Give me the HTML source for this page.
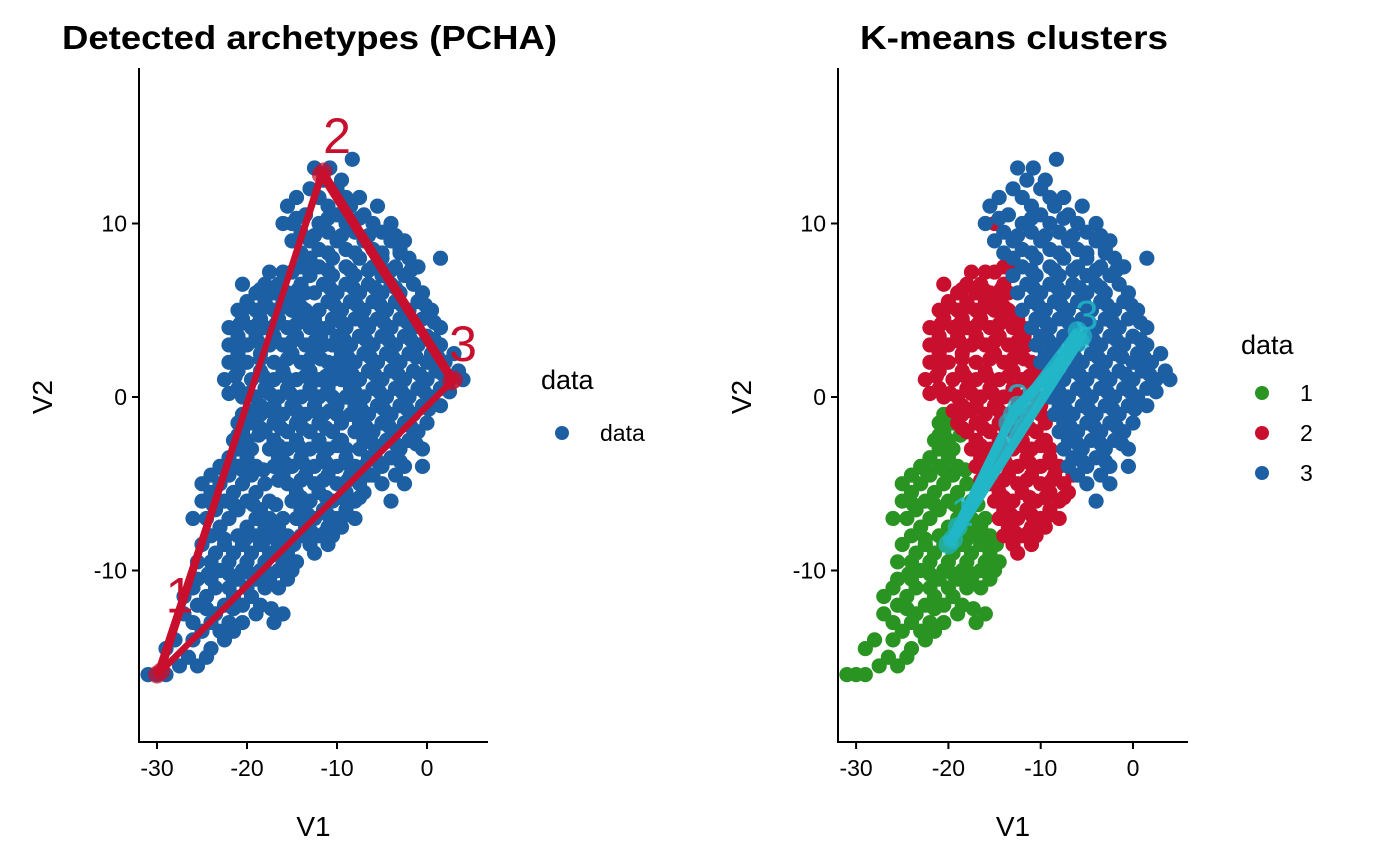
<!DOCTYPE html>
<html><head><meta charset="utf-8"><style>
body{margin:0;background:#fff;}
svg{display:block;font-family:"Liberation Sans",Arial,sans-serif;}
</style></head><body>
<svg id="chart" width="1400" height="865"></svg>
<script>
// data rows: [V2, [V1 values]]
const cluster1Rows = [
 [-16,[-31,-30,-29]],[-15.5,[-27.5,-25.5]],[-15,[-26.5,-24.5]],[-14.5,[-29,-24]],[-14,[-28,-26,-22.5]],
 [-13.5,[-25,-23,-21.5]],[-13,[-26,-24,-22,-20.5,-17]],[-12.5,[-27,-23.5,-19,-16]],[-12,[-25.5,-22.5,-20.5,-18.5]],
 [-11.5,[-27,-24.5,-21.5,-19.5]],[-11,[-26,-23.5,-22,-20,-18,-16.5]],[-10.5,[-25.5,-24,-21,-19,-17.5,-15.5]],
 [-10,[-23,-20.5,-18.5,-16.5,-15]],[-9.5,[-25.5,-24,-22,-20,-18,-16,-14.5]],[-9,[-23.5,-21.5,-19.5,-17.5,-15.5]],
 [-8.5,[-25,-22.5,-20.5,-18.5,-16.5,-14.8]],[-8,[-24,-21,-19,-17,-15.5]],[-7.5,[-23,-20,-18,-16.5]],
 [-7,[-26,-24.5,-22,-19,-17.5,-16]],[-6.5,[-23.5,-21,-18.5]],[-6,[-25,-22.5,-20,-17.5]],[-5.5,[-24,-21.5,-19]],
 [-5,[-25,-23,-20.5,-18]],[-4.5,[-24,-22,-19.5]],[-4,[-23,-21,-19]],[-3.5,[-22,-20]],[-3,[-21,-19.5]],
 [-2.5,[-21.5,-20]],[-2,[-20.5]],[-1.5,[-21,-19.5]],[-1,[-20.5]],
 [-12.2,[-24.5,-21.5,-17.3]],[-10.2,[-24.3,-22,-19.5,-17.3]],[-8.2,[-22.5,-20.2,-18,-16]],
 [-6.2,[-23.8,-21.5,-19.3,-16.8]],[-4.2,[-22.5,-20.5,-18.2]],[-2.2,[-21,-18.7]]
];
const cluster2Rows = [
 [10,[-15]],[7.5,[-14]],[7.2,[-17.5,-16,-15,-13]],[6.5,[-20.5,-18,-16.5,-14]],[6,[-19,-17,-15.5,-13.5]],
 [5.5,[-20,-18,-16,-14.5]],[5,[-21,-19,-17,-15,-13.5]],[4.5,[-20.5,-18.5,-16.5,-14,-12.5]],
 [4,[-22,-19.5,-18,-15.5,-13,-12]],[3.5,[-21,-19,-17,-14.5,-11.8]],[3,[-22,-20,-17.5,-16,-13.5,-11.5]],
 [2.5,[-21,-18.5,-15,-12.5]],[2,[-22,-20,-17,-14,-11]],[1.5,[-21,-18.5,-16,-13,-10.5]],
 [1,[-22.5,-19.5,-17,-14.5,-12,-10.5]],[0.5,[-21,-18,-15.5,-13,-11]],[0,[-20.5,-19,-16.5,-14,-12,-10.5]],
 [-0.5,[-18.5,-17,-15,-12.5,-10]],[-1,[-18.5,-16,-13.5,-11.5,-10]],[-1.5,[-19,-17,-14.5,-12,-9.5]],
 [-2,[-18,-15.5,-13,-10.5]],[-2.5,[-17,-14.5,-12,-9.5]],[-3,[-17.5,-15.5,-13,-11,-9]],
 [-3.5,[-16.5,-14,-11.5,-9]],[-4,[-17,-15,-12.5,-10,-8]],[-4.5,[-16,-13.5,-11,-8.5,-6.5]],
 [-5,[-15.5,-12.5,-10,-7.5]],[-5.5,[-14.5,-12,-9,-7]],[-6,[-15,-13,-10.5,-8]],[-6.5,[-14,-11.5,-9]],
 [-7,[-14.5,-12.5,-10,-8]],[-7.5,[-13.5,-11,-9.5]],[-8,[-14,-12,-10.5]],[-8.5,[-13,-11]],[-9,[-12.5]],
 [6.2,[-18.5,-16.2,-14.3]],[5.2,[-19.8,-17.8,-15.8,-14]],[4.2,[-20.8,-18.8,-16.8,-14.5,-12.8]],
 [3.2,[-21,-18.8,-16.8,-15,-12.5]],[2.2,[-21,-18.5,-15.5,-13,-11.8]],[1.2,[-21.3,-18.2,-15.8,-13.5,-11.2]],
 [0.2,[-22,-19.8,-17.5,-15.2,-13,-11.2]],[-0.8,[-19.5,-17.5,-14.5,-12.5,-10.8]],[-1.8,[-18.5,-16.2,-13.8,-11.2]],
 [-2.8,[-16.5,-14.3,-12,-10]],[-3.8,[-15.8,-13.8,-11.2,-9]],[-4.8,[-16.5,-14,-11.5,-8.8]],
 [-5.8,[-14,-11.2,-9.5,-7.5]],[-6.8,[-13.2,-11,-9]],[-7.8,[-12.8,-11.3]]
];
const cluster3Rows = [
 [13.7,[-8.3]],[13.2,[-12.5,-10.8]],[12.5,[-11.5,-9.5]],[12,[-13,-10]],[11.5,[-14.5,-12,-9,-7.5]],
 [11,[-15.5,-11,-8.5,-5.5]],[10.5,[-13.5,-10,-7]],[10,[-16,-12,-9,-6,-4]],[9.5,[-14,-11,-8,-5]],
 [9,[-15,-13,-10,-7,-4,-2.5]],[8.5,[-12,-9,-6,-3]],[8,[-13,-10.5,-7.5,-5,-2,1.5]],[7.5,[-12,-9,-6,-3.5,-1]],
 [7,[-13,-10.5,-8,-5,-2.5]],[6.5,[-11.5,-9,-6.5,-4,-1.5]],[6,[-12.5,-10,-7.5,-5,-3,-0.5]],
 [5.5,[-11,-8.5,-6,-3.5,-1]],[5,[-12,-9.5,-7,-4.5,-2,0.5]],[4.5,[-10.5,-8,-5.5,-3,-0.5]],
 [4,[-11,-9,-6.5,-4,-1.5,1.5]],[3.5,[-10,-7.5,-5,-2.5,0]],[3,[-10.5,-8.5,-6,-3.5,-1,1.5]],
 [2.5,[-9.5,-7,-4.5,-2,0.5,3]],[2,[-10,-8,-5.5,-3,0,2]],[1.5,[-9,-6.5,-4,-1.5,1,3.5]],
 [1,[-9.5,-7.5,-5,-2.5,0,2.5,4]],[0.5,[-8.5,-6,-3.5,-1,1.5]],[0,[-9,-7,-4.5,-2,0.5]],
 [-0.5,[-8,-5.5,-3,-0.5,1.5]],[-1,[-8.5,-6.5,-4,-1.5]],[-1.5,[-7.5,-5,-2.5,0]],[-2,[-8,-6,-3.5,-1]],
 [-2.5,[-7,-4.5,-2]],[-3,[-7.5,-5.5,-3,-0.5]],[-3.5,[-6.5,-4]],[-4,[-7,-5,-2.5,-0.5]],[-4.5,[-6,-3.5]],
 [-5,[-5,-2.5]],[-6,[-4]],
 [10.3,[-14.5,-11,-7.5]],[9.3,[-12.5,-9.5,-6.5,-3.5]],[8.3,[-14,-11,-8,-5,-3]],[7.3,[-11,-8.5,-6.5,-4,-1.8]],
 [6.3,[-10.8,-8.2,-5.8,-3.5]],[5.3,[-10.3,-7.8,-5.2,-2.8,-0.2]],[4.3,[-9.5,-7,-4.8,-2.2,0.8]],
 [3.3,[-9.2,-6.8,-4.3,-1.8,0.8]],[2.3,[-8.8,-6.3,-3.8,-1.2,1.2]],[1.3,[-8.3,-5.8,-3.2,-0.8,1.8]],
 [0.3,[-8,-5.3,-2.8,-0.3,2.5]],[-0.7,[-7.3,-4.8,-2.2,0.2]],[-1.7,[-6.8,-4.2,-1.8]],[-2.7,[-6,-3.5,-1.2]],
 [-3.7,[-5.5,-3]]
];
const archetypeRuns = [
 [[-30,-16],[-11.5,13],[3,1]],
 [[-29.5,-15.8],[-11.8,12.8],[2.7,0.9]]
];
const kmeansRuns = [
 [[-19.5,-8.2],[-13,-1],[-5.5,3.5]],
 [[-19,-7.5],[-13.5,-1.5],[-6,3.8]],
 [[-20,-8.5],[-12.5,-0.5],[-5.8,3.2]]
];
const xTicks = [-30,-20,-10,0];
const yTicks = [-10,0,10];
const clusterNames = ["1","2","3"];

const svg = document.getElementById('chart');
const NS = 'http://www.w3.org/2000/svg';
function mk(tag, attrs, parent){ const e=document.createElementNS(NS,tag); for(const k in attrs) e.setAttribute(k,attrs[k]); (parent||svg).appendChild(e); return e; }
const COLORS = ['#2a9423','#c8102e','#1c5fa3'];
const RED='#c8102e', CYAN='#21b6c8';

const panels = [
 {x0:139,x1:488,xz:427,kx:9.0,title:'Detected archetypes (PCHA)',tx:62,tl:495,anchor:'start',name:'pcha'},
 {x0:838,x1:1188,xz:1133,kx:9.23,title:'K-means clusters',tx:860,tl:308,anchor:'start',name:'kmeans'}
];
const yPx = v => 397 - 17.35*v;

panels.forEach((p,pi)=>{
  const xPx = v => p.xz + p.kx*v;
  const g = mk('g',{});  
  const pts = mk('g',{},g);
  
  
  [cluster1Rows,cluster2Rows,cluster3Rows].forEach((rows,ci)=>{
    rows.forEach(([y,xs])=>xs.forEach(x=>{
      const c = mk('circle',{cx:xPx(x),cy:yPx(y),r:7.6,fill: pi===0?'#1c5fa3':COLORS[ci]},pts);
      
      
    }));
  });
  const runs = pi===0?archetypeRuns:kmeansRuns;
  const col = pi===0?RED:CYAN;
  const ov = mk('g',{},g);
  
  
  const labs = pi===0?[[-27.5,-11.5],[-10,15],[4,3]]:[[-18.5,-6.5],[-12.5,0],[-5,4.8]];
  labs.forEach((l,i)=>{
    const t = mk('text',{x:xPx(l[0]),y:yPx(l[1])+16,'font-size':pi===0?50:42,fill:col,'text-anchor':'middle','fill-opacity':pi===0?1:0.85},ov);
    t.textContent = clusterNames[i];
    
    
  });
  runs.forEach(r=>{
    const d = r.map(v=>xPx(v[0])+','+yPx(v[1])).join(' ');
    const pl = mk(pi===0?'polygon':'polyline',{points:d,fill:'none',stroke:col,'stroke-width':pi===0?6:9,'stroke-linejoin':'round','stroke-opacity':pi===0?1:0.9},ov);
    
    
    if(pi===1){
      const l2 = mk('line',{x1:xPx(r[0][0]),y1:yPx(r[0][1]),x2:xPx(r[2][0]),y2:yPx(r[2][1]),stroke:col,'stroke-width':9,'stroke-opacity':0.9},ov);
      
      
    }
    r.forEach(v=>{
      const c = mk('circle',{cx:xPx(v[0]),cy:yPx(v[1]),r:pi===0?9:10,fill:col,'fill-opacity':0.7},ov);
      
      
    });
  });
  const ax = mk('g',{stroke:'#000','stroke-width':2},g);
  
  
  mk('line',{x1:p.x0,y1:68,x2:p.x0,y2:742},ax);
  mk('line',{x1:p.x0-1,y1:742,x2:p.x1,y2:742},ax);
  xTicks.forEach(t=>{
    mk('line',{x1:xPx(t),y1:742,x2:xPx(t),y2:749},ax);
    const tx = mk('text',{x:xPx(t),y:776,'font-size':23,'text-anchor':'middle',fill:'#000',stroke:'none'},g);
    tx.textContent = t;
    
    
  });
  yTicks.forEach(t=>{
    mk('line',{x1:p.x0-7,y1:yPx(t),x2:p.x0,y2:yPx(t)},ax);
    const ty = mk('text',{x:p.x0-12,y:yPx(t)+8,'font-size':23,'text-anchor':'end',fill:'#000'},g);
    ty.textContent = t;
    
    
  });
  const xt = mk('text',{x:(p.x0+p.x1)/2,y:836,'font-size':28,'text-anchor':'middle'},g);
  xt.textContent='V1';
  
  
  const yt = mk('text',{x:0,y:0,'font-size':28,'text-anchor':'middle',transform:`translate(${p.x0-87},397) rotate(-90)`},g);
  yt.textContent='V2';
  
  
  const ti = mk('text',{x:p.tx,y:49,'font-size':33,'font-weight':'bold','text-anchor':p.anchor,textLength:p.tl,lengthAdjust:'spacingAndGlyphs'},g);
  ti.textContent=p.title;
  
  
});

const lg1 = mk('g',{});


let t = mk('text',{x:541,y:389,'font-size':27},lg1); t.textContent='data';


mk('circle',{cx:562,cy:433,r:7,fill:'#1c5fa3'},lg1);
t = mk('text',{x:600,y:441,'font-size':23},lg1); t.textContent='data';



const lg2 = mk('g',{});


t = mk('text',{x:1241,y:354,'font-size':27},lg2); t.textContent='data';


clusterNames.forEach((n,i)=>{
  mk('circle',{cx:1262,cy:393+i*40,r:7,fill:COLORS[i]},lg2);
  const e = mk('text',{x:1300,y:401+i*40,'font-size':23},lg2); e.textContent=n;
  
  
});
</script>
</body></html>
